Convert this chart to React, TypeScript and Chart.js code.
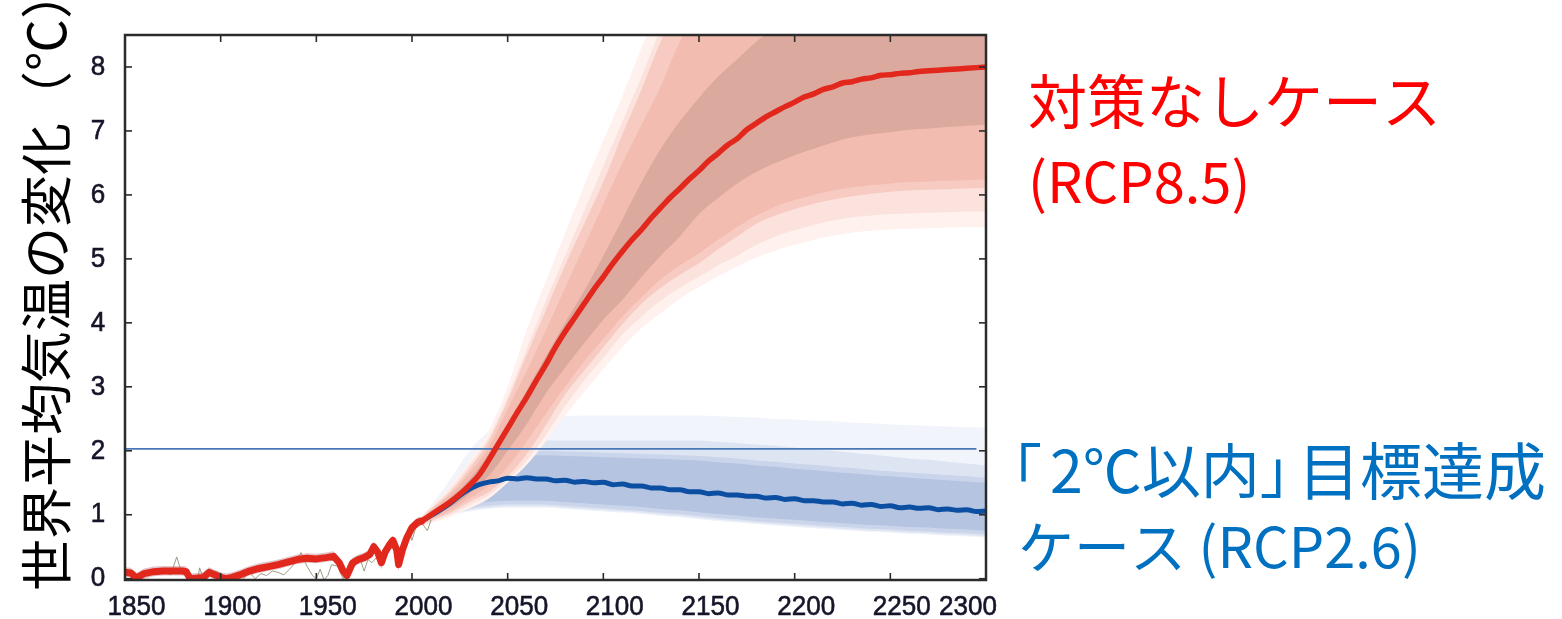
import React, { useEffect, useRef } from "react";
import { Chart, registerables } from "chart.js";

Chart.register(...registerables);

// ---------- axes ----------
const xTicks = [1850, 1900, 1950, 2000, 2050, 2100, 2150, 2200, 2250, 2300];
const yTicks = [0, 1, 2, 3, 4, 5, 6, 7, 8];
const yTitle = "世界平均気温の変化（℃）";

// ---------- historical ----------
const histYears = [1850, 1853, 1856, 1860, 1865, 1870, 1875, 1880, 1882, 1884, 1888, 1891, 1894, 1897, 1900, 1903, 1906, 1910, 1915, 1920, 1925, 1930, 1935, 1940, 1945, 1950, 1955, 1959, 1962, 1964, 1966, 1969, 1972, 1975, 1978, 1980, 1982, 1984, 1986, 1988, 1990, 1992, 1993, 1995, 1997, 2000, 2003, 2005];
const histMean = [0.10, 0.09, 0.01, 0.08, 0.11, 0.12, 0.12, 0.12, 0.11, 0.00, 0.01, 0.02, 0.10, 0.06, 0.02, 0.00, 0.02, 0.06, 0.12, 0.16, 0.19, 0.22, 0.26, 0.30, 0.32, 0.31, 0.33, 0.35, 0.25, 0.12, 0.05, 0.25, 0.30, 0.33, 0.38, 0.50, 0.42, 0.25, 0.42, 0.52, 0.60, 0.45, 0.22, 0.45, 0.62, 0.80, 0.88, 0.90];
const histLo = [0.02, 0.02, -0.08, 0.0, 0.04, 0.05, 0.05, 0.05, 0.03, -0.12, -0.08, -0.06, 0.03, -0.02, -0.06, -0.1, -0.05, -0.01, 0.05, 0.09, 0.12, 0.15, 0.19, 0.23, 0.25, 0.24, 0.26, 0.28, 0.16, 0.02, -0.05, 0.17, 0.23, 0.26, 0.31, 0.42, 0.33, 0.15, 0.34, 0.44, 0.52, 0.35, 0.12, 0.37, 0.55, 0.73, 0.81, 0.84];
const histHi = [0.18, 0.17, 0.09, 0.16, 0.19, 0.2, 0.2, 0.2, 0.19, 0.08, 0.09, 0.1, 0.18, 0.14, 0.1, 0.08, 0.1, 0.14, 0.2, 0.24, 0.27, 0.3, 0.34, 0.38, 0.4, 0.39, 0.41, 0.43, 0.33, 0.2, 0.13, 0.33, 0.38, 0.41, 0.46, 0.58, 0.5, 0.33, 0.5, 0.6, 0.68, 0.53, 0.3, 0.53, 0.7, 0.88, 0.96, 0.97];

const obsYears = [1850, 1853, 1856, 1859, 1862, 1865, 1868, 1871, 1874, 1877, 1879, 1882, 1885, 1888, 1889, 1891, 1894, 1897, 1900, 1903, 1906, 1909, 1912, 1915, 1918, 1921, 1924, 1927, 1930, 1933, 1936, 1939, 1942, 1945, 1948, 1950, 1952, 1954, 1956, 1958, 1961, 1964, 1967, 1970, 1973, 1975, 1977, 1979, 1982, 1985, 1988, 1991, 1994, 1997, 1998, 2000, 2002, 2005, 2008, 2010];
const obsValues = [0.05, 0.12, 0.02, 0.1, 0.06, 0.12, 0.08, 0.1, 0.06, 0.34, 0.15, 0.05, -0.05, 0.0, 0.17, 0.0, 0.05, 0.12, 0.08, -0.03, 0.02, -0.05, 0.0, 0.1, 0.0, 0.08, 0.05, 0.12, 0.1, 0.06, 0.15, 0.25, 0.41, 0.2, 0.05, 0.0, 0.15, -0.02, 0.05, 0.22, 0.2, 0.0, 0.12, 0.2, 0.3, 0.12, 0.3, 0.25, 0.35, 0.28, 0.45, 0.5, 0.38, 0.55, 0.78, 0.6, 0.8, 0.88, 0.75, 0.92];

// ---------- projections (means, 5-year) ----------
const projYears = [2005, 2010, 2015, 2020, 2025, 2030, 2035, 2040, 2045, 2050, 2055, 2060, 2065, 2070, 2075, 2080, 2085, 2090, 2095, 2100, 2105, 2110, 2115, 2120, 2125, 2130, 2135, 2140, 2145, 2150, 2155, 2160, 2165, 2170, 2175, 2180, 2185, 2190, 2195, 2200, 2205, 2210, 2215, 2220, 2225, 2230, 2235, 2240, 2245, 2250, 2255, 2260, 2265, 2270, 2275, 2280, 2285, 2290, 2295, 2300];
const rcp85Mean = [0.90, 1.00, 1.10, 1.20, 1.32, 1.46, 1.62, 1.85, 2.10, 2.35, 2.60, 2.84, 3.10, 3.35, 3.62, 3.86, 4.08, 4.30, 4.52, 4.72, 4.93, 5.12, 5.30, 5.46, 5.64, 5.80, 5.96, 6.10, 6.25, 6.38, 6.53, 6.65, 6.78, 6.88, 7.02, 7.12, 7.22, 7.30, 7.38, 7.45, 7.53, 7.58, 7.65, 7.69, 7.75, 7.77, 7.81, 7.83, 7.87, 7.88, 7.90, 7.91, 7.93, 7.94, 7.95, 7.96, 7.97, 7.98, 7.99, 8.00];
const rcp26Mean = [0.90, 0.99, 1.08, 1.18, 1.30, 1.40, 1.47, 1.51, 1.53, 1.57, 1.56, 1.58, 1.56, 1.56, 1.53, 1.54, 1.51, 1.52, 1.50, 1.51, 1.47, 1.48, 1.45, 1.45, 1.42, 1.42, 1.39, 1.39, 1.36, 1.36, 1.33, 1.34, 1.31, 1.31, 1.29, 1.29, 1.26, 1.27, 1.24, 1.25, 1.22, 1.22, 1.20, 1.20, 1.17, 1.18, 1.15, 1.16, 1.13, 1.14, 1.11, 1.12, 1.10, 1.11, 1.08, 1.09, 1.07, 1.08, 1.05, 1.06];
const goalLineYears = [1850, 2295];
const goalLineValues = [2.03, 2.03];

// ---------- uncertainty bands (10-year) ----------
const bandYears = [2005, 2010, 2020, 2030, 2040, 2050, 2060, 2070, 2080, 2090, 2100, 2110, 2120, 2130, 2140, 2150, 2160, 2170, 2180, 2190, 2200, 2210, 2220, 2230, 2240, 2250, 2260, 2270, 2280, 2290, 2300];
const r1Lo = [0.87, 0.96, 1.12, 1.33, 1.6, 2.0, 2.42, 2.9, 3.3, 3.68, 4.05, 4.36, 4.72, 5.05, 5.35, 5.7, 5.95, 6.18, 6.36, 6.5, 6.62, 6.72, 6.82, 6.9, 6.95, 6.98, 7.02, 7.04, 7.06, 7.08, 7.1];
const r1Hi = [0.93, 1.04, 1.27, 1.55, 1.95, 2.42, 2.95, 3.48, 4.0, 4.5, 5.05, 5.62, 6.2, 6.72, 7.15, 7.52, 7.85, 8.12, 8.4, 8.6, 8.8, 9.0, 9.2, 9.3, 9.4, 9.5, 9.5, 9.5, 9.5, 9.5, 9.5];
const r2Lo = [0.85, 0.93, 1.07, 1.25, 1.45, 1.75, 2.15, 2.58, 3.0, 3.4, 3.75, 4.1, 4.4, 4.68, 4.9, 5.09, 5.3, 5.5, 5.68, 5.82, 5.92, 6.0, 6.07, 6.12, 6.15, 6.18, 6.2, 6.21, 6.22, 6.23, 6.24];
const r2Hi = [0.95, 1.07, 1.32, 1.65, 2.05, 2.65, 3.25, 3.89, 4.55, 5.2, 5.85, 6.5, 7.1, 7.7, 8.4, 8.9, 9.3, 9.5, 9.5, 9.5, 9.5, 9.5, 9.5, 9.5, 9.5, 9.5, 9.5, 9.5, 9.5, 9.5, 9.5];
const r3Lo = [0.84, 0.91, 1.03, 1.2, 1.35, 1.6, 1.95, 2.4, 2.88, 3.25, 3.62, 3.98, 4.3, 4.55, 4.75, 4.93, 5.15, 5.35, 5.55, 5.68, 5.78, 5.86, 5.93, 5.98, 6.02, 6.05, 6.07, 6.08, 6.09, 6.1, 6.11];
const r3Hi = [0.96, 1.09, 1.36, 1.72, 2.15, 2.78, 3.5, 4.2, 4.9, 5.55, 6.2, 6.95, 7.65, 8.4, 9.0, 9.5, 9.5, 9.5, 9.5, 9.5, 9.5, 9.5, 9.5, 9.5, 9.5, 9.5, 9.5, 9.5, 9.5, 9.5, 9.5];
const r4Lo = [0.83, 0.89, 1.0, 1.15, 1.3, 1.55, 1.85, 2.25, 2.7, 3.1, 3.45, 3.82, 4.1, 4.35, 4.55, 4.72, 4.9, 5.05, 5.22, 5.35, 5.45, 5.53, 5.6, 5.65, 5.68, 5.7, 5.71, 5.72, 5.73, 5.74, 5.74];
const r4Hi = [0.97, 1.11, 1.4, 1.78, 2.2, 2.85, 3.6, 4.35, 5.05, 5.75, 6.45, 7.15, 7.85, 8.6, 9.2, 9.5, 9.5, 9.5, 9.5, 9.5, 9.5, 9.5, 9.5, 9.5, 9.5, 9.5, 9.5, 9.5, 9.5, 9.5, 9.5];
const r5Lo = [0.82, 0.87, 0.97, 1.1, 1.25, 1.5, 1.78, 2.15, 2.55, 2.92, 3.28, 3.62, 3.92, 4.15, 4.38, 4.56, 4.73, 4.88, 5.02, 5.13, 5.22, 5.3, 5.36, 5.41, 5.44, 5.46, 5.47, 5.48, 5.49, 5.5, 5.5];
const r5Hi = [0.98, 1.13, 1.45, 1.85, 2.3, 3.0, 3.89, 4.65, 5.4, 6.15, 6.85, 7.55, 8.3, 9.0, 9.5, 9.5, 9.5, 9.5, 9.5, 9.5, 9.5, 9.5, 9.5, 9.5, 9.5, 9.5, 9.5, 9.5, 9.5, 9.5, 9.5];

const b1Lo = [0.86, 0.93, 1.06, 1.15, 1.2, 1.22, 1.22, 1.22, 1.2, 1.18, 1.16, 1.14, 1.12, 1.09, 1.07, 1.04, 1.01, 0.99, 0.96, 0.94, 0.92, 0.9, 0.88, 0.86, 0.84, 0.83, 0.81, 0.8, 0.78, 0.77, 0.75];
const b1Hi = [0.94, 1.05, 1.3, 1.6, 1.82, 1.92, 1.93, 1.93, 1.92, 1.91, 1.9, 1.89, 1.88, 1.87, 1.86, 1.85, 1.82, 1.8, 1.77, 1.75, 1.72, 1.7, 1.67, 1.65, 1.62, 1.6, 1.58, 1.56, 1.54, 1.52, 1.5];
const b2Lo = [0.85, 0.91, 1.03, 1.1, 1.14, 1.16, 1.16, 1.16, 1.14, 1.12, 1.1, 1.08, 1.06, 1.03, 1.01, 0.98, 0.95, 0.93, 0.9, 0.88, 0.86, 0.84, 0.82, 0.8, 0.78, 0.77, 0.75, 0.74, 0.72, 0.71, 0.69];
const b2Hi = [0.95, 1.07, 1.36, 1.7, 1.92, 2.0, 2.0, 2.0, 1.99, 1.98, 1.97, 1.96, 1.95, 1.94, 1.93, 1.92, 1.9, 1.88, 1.85, 1.83, 1.8, 1.78, 1.75, 1.73, 1.7, 1.68, 1.66, 1.64, 1.62, 1.6, 1.58];
const b3Lo = [0.84, 0.9, 1.0, 1.07, 1.11, 1.13, 1.13, 1.13, 1.11, 1.09, 1.07, 1.05, 1.03, 1.0, 0.98, 0.95, 0.92, 0.9, 0.87, 0.85, 0.83, 0.81, 0.79, 0.77, 0.75, 0.74, 0.72, 0.71, 0.69, 0.68, 0.66];
const b3Hi = [0.96, 1.1, 1.42, 1.82, 2.05, 2.13, 2.15, 2.16, 2.16, 2.16, 2.16, 2.16, 2.16, 2.16, 2.16, 2.16, 2.14, 2.12, 2.1, 2.08, 2.05, 2.02, 2.0, 1.97, 1.94, 1.91, 1.88, 1.86, 1.83, 1.8, 1.77];
const b4Lo = [0.83, 0.88, 0.98, 1.05, 1.09, 1.11, 1.11, 1.11, 1.09, 1.07, 1.05, 1.03, 1.01, 0.98, 0.96, 0.93, 0.9, 0.88, 0.85, 0.83, 0.81, 0.79, 0.77, 0.75, 0.73, 0.72, 0.7, 0.69, 0.67, 0.66, 0.64];
const b4Hi = [0.98, 1.15, 1.55, 2.0, 2.3, 2.45, 2.5, 2.52, 2.54, 2.55, 2.55, 2.55, 2.55, 2.55, 2.55, 2.55, 2.54, 2.53, 2.52, 2.5, 2.49, 2.47, 2.46, 2.44, 2.43, 2.41, 2.4, 2.39, 2.38, 2.37, 2.36];

// ---------- annotations ----------
const redLabel1 = "対策なしケース";
const redLabel2 = "(RCP8.5)";
const blueBracket = "「";
const blueLabel1a = "2℃以内」";
const blueLabel1b = "目標達成";
const blueLabel2 = "ケース (RCP2.6)";

const pts = (xs: number[], ys: number[]) => xs.map((x, i) => ({ x, y: ys[i] }));

function band(lo: number[], hi: number[], color: string, order: number) {
  return [
    { data: pts(bandYears, lo), borderWidth: 0, borderColor: "transparent", pointRadius: 0, fill: false, order, cubicInterpolationMode: "monotone" },
    { data: pts(bandYears, hi), borderWidth: 0, borderColor: "transparent", pointRadius: 0, fill: "-1", backgroundColor: color, order, cubicInterpolationMode: "monotone" },
  ];
}

const TICK_FONT = "28px Liberation Sans, Arial, sans-serif";

const decoPlugin = {
  id: "deco",
  afterDraw(chart: any) {
    const { ctx, chartArea: a, scales } = chart;
    const xs = scales.x;
    const ys = scales.y;
    ctx.save();
    ctx.strokeStyle = "#2a2a2a";
    ctx.lineWidth = 1.6;
    const seg = (x1: number, y1: number, x2: number, y2: number) => {
      ctx.beginPath();
      ctx.moveTo(x1, y1);
      ctx.lineTo(x2, y2);
      ctx.stroke();
    };
    for (const t of xTicks) {
      const px = xs.getPixelForValue(t);
      seg(px, a.bottom, px, a.bottom - 7);
      seg(px, a.top, px, a.top + 7);
    }
    for (const t of yTicks) {
      const py = ys.getPixelForValue(t);
      seg(a.left, py, a.left + 7, py);
      seg(a.right, py, a.right - 7, py);
    }
    ctx.lineWidth = 2.5;
    ctx.strokeStyle = "#2b2b2b";
    ctx.strokeRect(a.left, a.top, a.right - a.left, a.bottom - a.top);

    // tick labels
    ctx.fillStyle = "#15152a";
    ctx.strokeStyle = "#15152a";
    ctx.lineWidth = 0.6;
    ctx.font = TICK_FONT;
    ctx.textBaseline = "middle";
    ctx.textAlign = "center";
    const sx = 0.93;
    const drawCondensed = (txt: string, cx: number, cy: number) => {
      ctx.save();
      ctx.translate(cx, cy);
      ctx.scale(sx, 1);
      ctx.fillText(txt, 0, 0);
      ctx.strokeText(txt, 0, 0);
      ctx.restore();
    };
    for (const t of xTicks) {
      const px = xs.getPixelForValue(t);
      const w = ctx.measureText(String(t)).width * sx;
      let cx = px + 11.5;
      if (cx + w / 2 > a.right + 11) cx = a.right + 11 - w / 2;
      drawCondensed(String(t), cx, 607);
    }
    for (const t of yTicks) {
      const py = ys.getPixelForValue(t);
      drawCondensed(String(t), 98, py);
    }

    // y title
    ctx.save();
    ctx.translate(46, 279);
    ctx.rotate(-Math.PI / 2);
    ctx.fillStyle = "#000";
    ctx.font = '52px "Noto Sans CJK JP", sans-serif';
    ctx.textAlign = "center";
    ctx.textBaseline = "middle";
    ctx.fillText(yTitle, 0, 0);
    ctx.restore();

    // annotations
    ctx.textAlign = "left";
    ctx.textBaseline = "middle";
    ctx.font = '59px "Noto Sans CJK JP", sans-serif';
    ctx.fillStyle = "#FF0000";
    ctx.fillText(redLabel1, 1028, 102);
    ctx.font = '56px "Noto Sans CJK JP", sans-serif';
    ctx.fillText(redLabel2, 1028, 182);
    ctx.fillStyle = "#0070C0";
    ctx.font = '59px "Noto Sans CJK JP", sans-serif';
    ctx.fillText(blueBracket, 983, 471);
    ctx.fillText(blueLabel1a, 1050, 471);
    ctx.font = '62px "Noto Sans CJK JP", sans-serif';
    ctx.fillText(blueLabel1b, 1298, 471);
    ctx.font = '56px "Noto Sans CJK JP", sans-serif';
    ctx.fillText(blueLabel2, 1018, 547);
    ctx.restore();
  },
};

export default function App() {
  const ref = useRef<HTMLCanvasElement>(null);
  useEffect(() => {
    if (!ref.current) return;
    const datasets: any[] = [
      { data: pts(histYears, histMean), borderColor: "#E2271C", borderWidth: 7, borderJoinStyle: "round", borderCapStyle: "round", pointRadius: 0, fill: false, order: 0 },
      { data: pts(projYears, rcp85Mean), borderColor: "#E2271C", borderWidth: 5.5, borderJoinStyle: "round", pointRadius: 0, fill: false, order: 1, cubicInterpolationMode: "monotone" },
      { data: pts(goalLineYears, goalLineValues), borderColor: "#4A78B6", borderWidth: 1.6, pointRadius: 0, fill: false, order: 2 },
      { data: pts(projYears, rcp26Mean), borderColor: "#0B4EA2", borderWidth: 5, borderJoinStyle: "round", pointRadius: 0, fill: false, order: 3, cubicInterpolationMode: "monotone" },
      { data: pts(obsYears, obsValues), borderColor: "rgba(140,140,110,0.85)", borderWidth: 1, pointRadius: 0, fill: false, order: 4 },
      { data: pts(histYears, histLo), borderWidth: 0, borderColor: "transparent", pointRadius: 0, fill: false, order: 5 },
      { data: pts(histYears, histHi), borderWidth: 0, borderColor: "transparent", pointRadius: 0, fill: "-1", backgroundColor: "rgba(200,150,158,0.55)", order: 5 },
      ...band(r1Lo, r1Hi, "#DCA99F", 6),
      ...band(r2Lo, r2Hi, "#F3BCB0", 7),
      ...band(r3Lo, r3Hi, "#F7CBC1", 8),
      ...band(r4Lo, r4Hi, "#FBE2DC", 9),
      ...band(r5Lo, r5Hi, "#FEF1EE", 10),
      ...band(b1Lo, b1Hi, "#B4C4E1", 11),
      ...band(b2Lo, b2Hi, "#CAD5EB", 12),
      ...band(b3Lo, b3Hi, "#DEE5F2", 13),
      ...band(b4Lo, b4Hi, "#F1F4FA", 14),
    ];
    const chart = new Chart(ref.current, {
      type: "line",
      data: { datasets },
      options: {
        responsive: false,
        animation: false,
        layout: { padding: { left: 125, right: 576, top: 35, bottom: 39 } },
        plugins: { legend: { display: false }, tooltip: { enabled: false } },
        scales: {
          x: { type: "linear", min: 1850, max: 2300, display: false },
          y: { type: "linear", min: -0.02, max: 8.5, display: false },
        },
      },
      plugins: [decoPlugin],
    });
    return () => chart.destroy();
  }, []);
  return (
    <div style={{ position: "absolute", left: 0, top: 0, width: 1562, height: 619, background: "#fff" }}>
      <canvas ref={ref} width={1562} height={619} style={{ width: 1562, height: 619, display: "block" }} />
    </div>
  );
}
